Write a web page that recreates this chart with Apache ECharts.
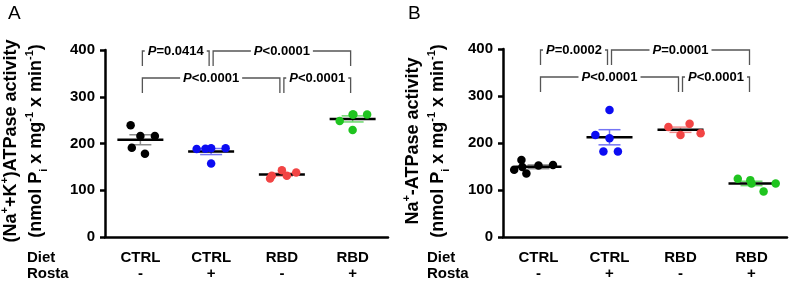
<!DOCTYPE html>
<html>
<head>
<meta charset="utf-8">
<script src="https://cdn.jsdelivr.net/npm/echarts@6/dist/echarts.min.js"></script>
<style>
html, body { margin: 0; padding: 0; background: #fff; }
#chart { width: 789px; height: 282px; }
</style>
</head>
<body>
<div id="chart"></div>
<script>
var groups = ['CTRL\n-', 'CTRL\n+', 'RBD\n-', 'RBD\n+'];

// panel A: (Na+ + K+)ATPase activity
var nakCtrl = [216, 239, 216, 191, 178];
var nakCtrlRosta = [190, 188, 190, 189, 157];
var nakRbd = [143, 125, 138, 131, 131];
var nakRbdRosta = [262, 248, 262, 262, 229];
var nakPairs = [[0, 1], [1, 3], [0, 2], [2, 3]];
var nakP = ['=0.0414', '<0.0001', '<0.0001', '<0.0001'];

// panel B: Na+-ATPase activity
var naCtrl = [152, 135, 153, 164, 143, 149];
var naCtrlRosta = [270, 210, 217, 182, 182];
var naRbd = [217, 234, 241, 221];
var naRbdRosta = [114, 124, 97, 114, 121];
var naPairs = [[0, 1], [1, 3], [0, 2], [2, 3]];
var naP = ['=0.0002', '=0.0001', '<0.0001', '<0.0001'];

var FONT = '"Liberation Sans", Arial, sans-serif';
var dotColors = ['#000000', '#0c0cf2', '#f24444', '#1fc41f'];
var barColors = ['#8c8c8c', '#7474f4', '#f28c8c', '#6cd86c'];

function meanSem(arr) {
    var n = arr.length, m = 0, s = 0;
    arr.forEach(function (v) { m += v; });
    m /= n;
    arr.forEach(function (v) { s += (v - m) * (v - m); });
    return [m, Math.sqrt(s / (n - 1)) / Math.sqrt(n)];
}

function axisPair(idx) {
    var x = {
        gridIndex: idx,
        type: 'category',
        data: groups,
        jitter: 50,
        jitterOverlap: false,
        jitterMargin: 6,
        axisLine: { lineStyle: { color: '#000', width: 2.5 } },
        axisTick: { alignWithLabel: true, length: 6, lineStyle: { color: '#000', width: 2.5 } },
        axisLabel: { color: '#000', fontWeight: 'bold', fontSize: 15, fontFamily: FONT, lineHeight: 16, margin: 13 },
        splitLine: { show: false }
    };
    var y = {
        gridIndex: idx,
        type: 'value',
        min: 0,
        max: 400,
        interval: 100,
        axisLine: { show: true, lineStyle: { color: '#000', width: 2.5 } },
        axisTick: { show: true, length: 5, lineStyle: { color: '#000', width: 2.5 } },
        axisLabel: { color: '#000', fontWeight: 'bold', fontSize: 15, fontFamily: FONT, margin: 10 },
        splitLine: { show: false }
    };
    return [x, y];
}

function panelSeries(idx, sets, pairs, pvals) {
    var out = [];
    var stats = sets.map(function (s, i) {
        var ms = meanSem(s);
        return [i, ms[0], ms[1]];
    });
    out.push({
        type: 'custom',
        xAxisIndex: idx,
        yAxisIndex: idx,
        z: 2,
        silent: true,
        data: stats,
        renderItem: function (params, api) {
            var i = api.value(0);
            var c = api.coord([i, api.value(1)]);
            var hi = api.coord([i, api.value(1) + api.value(2)]);
            var lo = api.coord([i, api.value(1) - api.value(2)]);
            var bs = { stroke: barColors[i], lineWidth: 1.5 };
            return {
                type: 'group',
                children: [
                    { type: 'line', shape: { x1: c[0], y1: hi[1], x2: c[0], y2: lo[1] }, style: bs },
                    { type: 'line', shape: { x1: c[0] - 11, y1: hi[1], x2: c[0] + 11, y2: hi[1] }, style: bs },
                    { type: 'line', shape: { x1: c[0] - 11, y1: lo[1], x2: c[0] + 11, y2: lo[1] }, style: bs },
                    { type: 'line', shape: { x1: c[0] - 23, y1: c[1], x2: c[0] + 23, y2: c[1] }, style: { stroke: '#000', lineWidth: 2.5 } }
                ]
            };
        }
    });
    sets.forEach(function (s, i) {
        out.push({
            type: 'scatter',
            xAxisIndex: idx,
            yAxisIndex: idx,
            z: 3,
            symbolSize: 8.5,
            itemStyle: { color: dotColors[i], opacity: 1 },
            data: s.map(function (v) { return [i, v]; })
        });
    });
    out.push({
        type: 'custom',
        xAxisIndex: idx,
        yAxisIndex: idx,
        z: 4,
        silent: true,
        clip: false,
        data: pairs.map(function (p, k) { return [p[0], p[1], k]; }),
        renderItem: function (params, api) {
            var k = api.value(2);
            var a = api.coord([api.value(0), 400]);
            var b = api.coord([api.value(1), 400]);
            var y = a[1] + 1 + (k < 2 ? 0 : 27);
            var x1 = a[0] + 2, x2 = b[0] - 2;
            var ls = { stroke: '#555', lineWidth: 1.3, fill: null };
            return {
                type: 'group',
                children: [
                    { type: 'polyline', shape: { points: [[x1, y + 15], [x1, y], [x2, y], [x2, y + 15]] }, style: ls },
                    {
                        type: 'text',
                        x: (x1 + x2) / 2,
                        y: y,
                        style: {
                            text: '{i|P}{n|' + pvals[k] + '}',
                            rich: {
                                i: { fontStyle: 'italic', fontWeight: 'bold', fontSize: 13, fontFamily: FONT, fill: '#000' },
                                n: { fontWeight: 'bold', fontSize: 13, fontFamily: FONT, fill: '#000' }
                            },
                            align: 'center',
                            verticalAlign: 'middle',
                            backgroundColor: '#fff',
                            padding: [0, 3]
                        }
                    }
                ]
            };
        }
    });
    return out;
}

var axA = axisPair(0), axB = axisPair(1);

var titleRich = {
    t: { fontSize: 18, fontWeight: 'bold', fontFamily: FONT, lineHeight: 25, fill: '#000' },
    sup: { fontSize: 11, fontWeight: 'bold', fontFamily: FONT, verticalAlign: 'top', fill: '#000' },
    sub: { fontSize: 11, fontWeight: 'bold', fontFamily: FONT, verticalAlign: 'bottom', fill: '#000' }
};
var unitLine = '{t|(nmol P}{sub|i}{t| x mg}{sup|-1}{t| x min}{sup|-1}{t|)}';

function yTitle(x, first) {
    return {
        type: 'text',
        x: x,
        y: 141,
        rotation: Math.PI / 2,
        style: {
            text: first + '\n' + unitLine,
            rich: titleRich,
            align: 'center',
            verticalAlign: 'middle'
        }
    };
}

function rowText(x, y, txt) {
    return {
        type: 'text',
        x: x,
        y: y,
        style: { text: txt, fontSize: 15, fontWeight: 'bold', fontFamily: FONT, fill: '#000', verticalAlign: 'middle' }
    };
}

var option = {
    animation: false,
    grid: [
        { left: 105, top: 50, width: 283, height: 187 },
        { left: 503, top: 49, width: 284, height: 188 }
    ],
    xAxis: [axA[0], axB[0]],
    yAxis: [axA[1], axB[1]],
    series: panelSeries(0, [nakCtrl, nakCtrlRosta, nakRbd, nakRbdRosta], nakPairs, nakP)
        .concat(panelSeries(1, [naCtrl, naCtrlRosta, naRbd, naRbdRosta], naPairs, naP)),
    graphic: [
        { type: 'text', x: 8, y: 4, style: { text: 'A', fontSize: 19, fontFamily: FONT, fill: '#000' } },
        { type: 'text', x: 408, y: 4, style: { text: 'B', fontSize: 19, fontFamily: FONT, fill: '#000' } },
        yTitle(24, '{t|(Na}{sup|+}{t|+K}{sup|+}{t|)ATPase activity}'),
        yTitle(426, '{t|Na}{sup|+}{t|-ATPase activity}'),
        rowText(27, 258, 'Diet'),
        rowText(27, 274, 'Rosta'),
        rowText(427, 258, 'Diet'),
        rowText(427, 274, 'Rosta')
    ]
};

var chart = echarts.init(document.getElementById('chart'));
chart.setOption(option);
</script>
</body>
</html>
